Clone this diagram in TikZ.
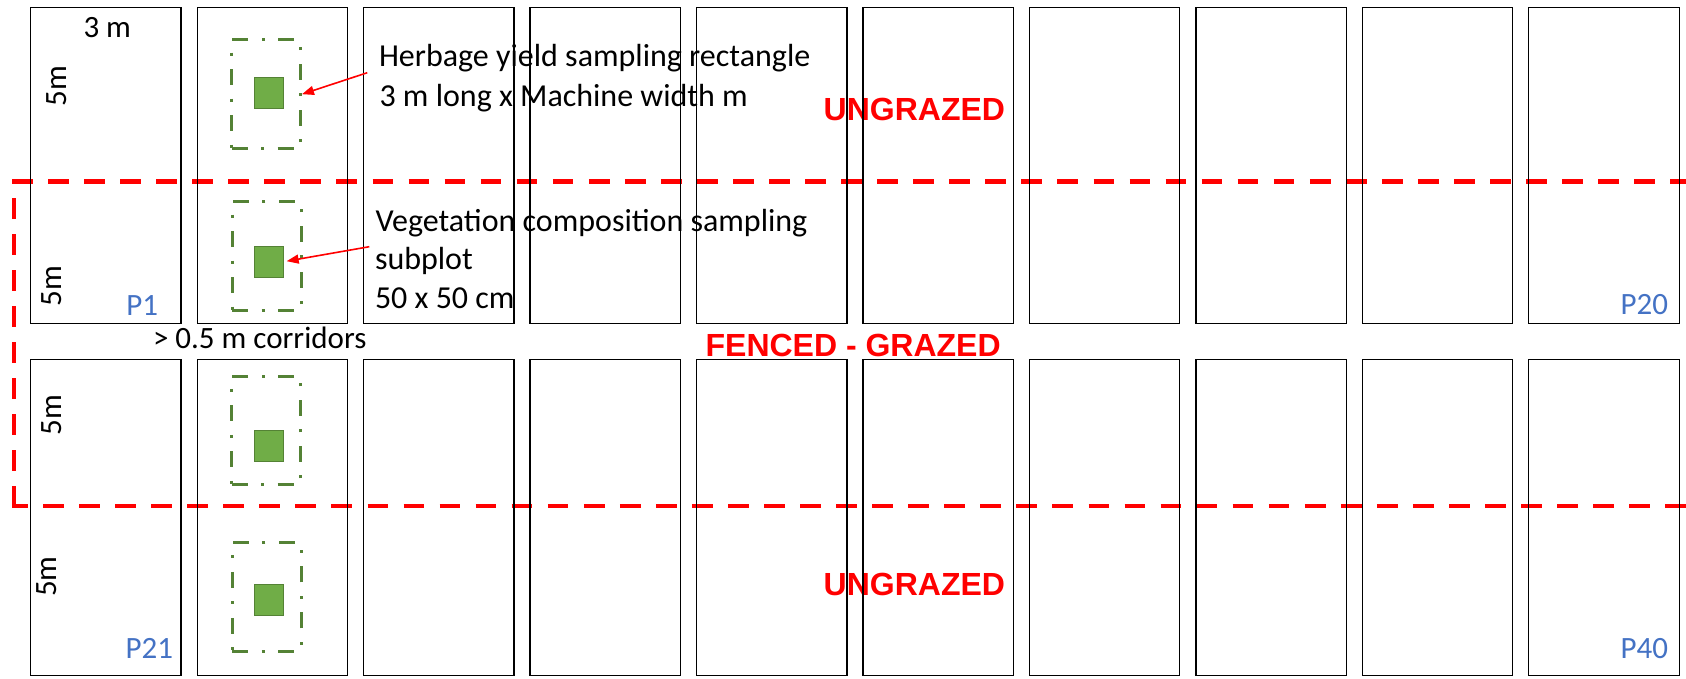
\documentclass[tikz,border=0pt]{standalone}
\usepackage{fontspec}
\setmainfont{Carlito}
\newfontfamily\labfont{Liberation Sans}
\usetikzlibrary{arrows.meta,calc}
\definecolor{fred}{HTML}{FF0000}
\definecolor{pblue}{HTML}{4472C4}
\definecolor{dgreen}{HTML}{548235}
\definecolor{lgreen}{HTML}{70AD47}
\begin{document}
\begin{tikzpicture}[x=1pt,y=-1pt,
  txt/.style={inner sep=0pt, outer sep=0pt, anchor=base west, font=\fontsize{32}{39}\selectfont},
  smalltxt/.style={inner sep=0pt, outer sep=0pt, font=\fontsize{31}{37}\selectfont},
  plabel/.style={smalltxt, anchor=base east, text=pblue},
  dimlabel/.style={smalltxt, anchor=base, rotate=90},
  redlab/.style={inner sep=0pt, outer sep=0pt, anchor=base west, text=fred, font=\labfont\bfseries\fontsize{32}{38}\selectfont},
  plotbox/.style={draw=black, line width=1.3pt, minimum width=150.4pt, minimum height=316.3pt, inner sep=0pt},
  fence/.style={draw=fred, line width=4.3pt, dash pattern=on 20.7pt off 15.35pt},
  hrect/.style={draw=dgreen, line width=3pt, dash pattern=on 16pt off 13.5pt on 3pt off 13.5pt, minimum width=69pt, minimum height=108.7pt, inner sep=0pt},
  sq/.style={fill=lgreen, draw=dgreen, line width=1pt, minimum width=28.4pt, minimum height=31.3pt, inner sep=0pt},
  arr/.style={draw=fred, line width=1.6pt, -{Triangle[length=12pt,width=9pt]}}
]
\useasboundingbox (0,0) rectangle (1686,678);

% texts
\node[smalltxt, anchor=base west] (dim3) at (83.5,37.3) {3 m};
\node[txt] (herb1) at (379,66.7) {Herbage yield sampling rectangle};
\node[txt] (herb2) at (379.5,106) {3 m long x Machine width m};
\node[txt] (veg1) at (375.5,231) {Vegetation composition sampling};
\node[txt] (veg2) at (375,269.5) {subplot};
\node[txt] (veg3) at (375,308.3) {50 x 50 cm};
\node[smalltxt, anchor=base west] (corr) at (153,348.3) {> 0.5 m corridors};

\node[dimlabel] (h1) at (66,86) {5m};
\node[dimlabel] (h2) at (61,286.3) {5m};
\node[dimlabel] (h3) at (61,415) {5m};
\node[dimlabel] (h4) at (56.7,576.7) {5m};

\node[redlab] (ung1) at (823.7,120) {UNGRAZED};
\node[redlab] (fen) at (705.6,356) {FENCED - GRAZED};
\node[redlab] (ung2) at (823.7,595) {UNGRAZED};

% fence lines
\draw[fence] (12,181.5) -- (1686,181.5);
\draw[fence, dash phase=19.5pt] (14.3,181.5) -- (14.3,508.4);
\draw[fence, dash phase=5pt] (12,506.2) -- (1686,506.2);

% plots
\foreach \i in {0,...,9} {
  \pgfmathsetmacro\cx{105.9+166.45*\i}
  \node[plotbox] (top\i) at (\cx,165.35) {};
  \node[plotbox] (bot\i) at (\cx,517.5) {};
}

\node[plabel] (P1) at (158,315) {P1};
\node[plabel] (P20) at (1668,314.3) {P20};
\node[plabel] (P21) at (173,658.3) {P21};
\node[plabel] (P40) at (1668,658) {P40};

% sampling areas
\node[hrect] (r1) at (266,94.2) {};
\node[hrect] (r2) at (266.7,256.2) {};
\node[hrect] (r3) at (266,430.5) {};
\node[hrect] (r4) at (266.7,597) {};
\node[sq] (s1) at (269,92.85) {};
\node[sq] (s2) at (269,261.7) {};
\node[sq] (s3) at (269,445.7) {};
\node[sq] (s4) at (269,599.85) {};

% arrows
\coordinate (a1) at ($(herb1.base west)+(-11.7,6)$);
\coordinate (a2) at ($(veg1.base west)+(-6.2,15.7)$);
\draw[arr] (a1) -- (r1.east);
\draw[arr, shorten >=3pt] (a2) -- (s2.east);
\end{tikzpicture}
\end{document}
